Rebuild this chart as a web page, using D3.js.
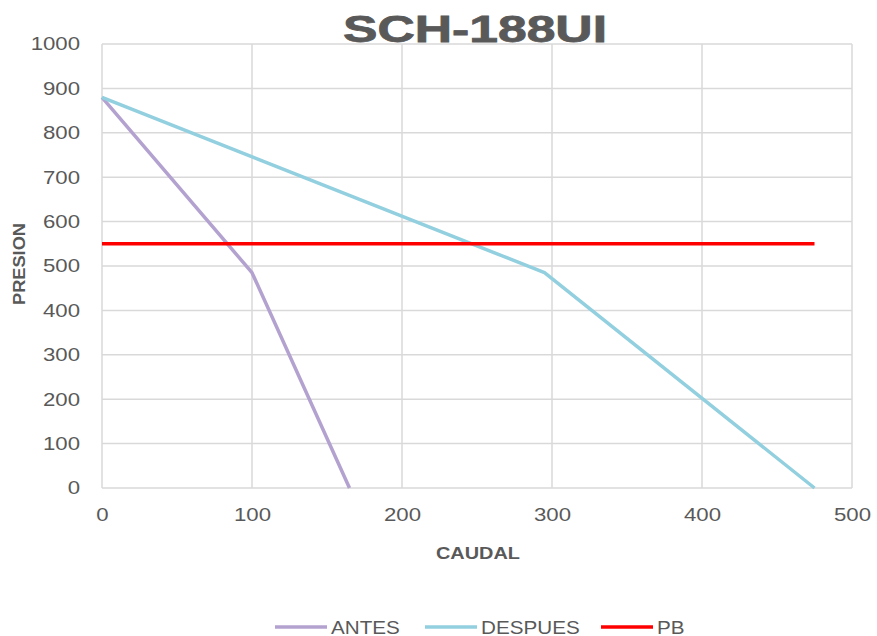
<!DOCTYPE html>
<html>
<head>
<meta charset="utf-8">
<script src="https://cdn.jsdelivr.net/npm/d3@7"></script>
<style>
  body { margin: 0; background: #fff; }
  svg { display: block; font-family: "Liberation Sans", Arial, sans-serif; }
</style>
</head>
<body>
<svg id="chart" width="877" height="636"></svg>
<script>
// Pump curve data: pressure vs flow
const antesCaudal = [0, 100, 165];
const antesPresion = [880, 485, 0];
const despuesCaudal = [0, 295, 475];
const despuesPresion = [880, 485, 0];
const pbCaudal = [0, 475];
const pbPresion = [550, 550];
const xTicks = [0, 100, 200, 300, 400, 500];
const yTicks = [0, 100, 200, 300, 400, 500, 600, 700, 800, 900, 1000];
const seriesNames = ["ANTES", "DESPUES", "PB"];
const seriesColors = ["#b3a2d0", "#92cfdf", "#ff0000"];

const svg = d3.select("#chart");
const m = { left: 102, right: 852, top: 44, bottom: 488 };
const x = d3.scaleLinear().domain([0, 500]).range([m.left, m.right]);
const y = d3.scaleLinear().domain([0, 1000]).range([m.bottom, m.top]);
const textColor = "#595959";

// Widen glyphs horizontally, keeping the anchor in place
function widen(sel, factor) {
  sel.each(function () {
    const w = this.getComputedTextLength();
    d3.select(this).attr("textLength", w * factor).attr("lengthAdjust", "spacingAndGlyphs");
  });
}

// Gridlines
svg.append("g").selectAll("line").data(yTicks).join("line")
  .attr("x1", m.left).attr("x2", m.right)
  .attr("y1", d => y(d)).attr("y2", d => y(d))
  .attr("stroke", "#d9d9d9").attr("stroke-width", 1.5);
svg.append("g").selectAll("line").data(xTicks).join("line")
  .attr("y1", m.top).attr("y2", m.bottom)
  .attr("x1", d => x(d)).attr("x2", d => x(d))
  .attr("stroke", "#d9d9d9").attr("stroke-width", 1.5);

// Axes (labels only)
const yAxis = svg.append("g").attr("transform", `translate(${m.left},0)`)
  .call(d3.axisLeft(y).tickValues(yTicks).tickSize(0).tickPadding(22).tickFormat(d3.format("d")));
yAxis.select(".domain").remove();
yAxis.selectAll("text").attr("fill", textColor).style("font-size", "18.5px").call(widen, 1.2);

const xAxis = svg.append("g").attr("transform", `translate(0,${m.bottom})`)
  .call(d3.axisBottom(x).tickValues(xTicks).tickSize(0).tickPadding(20).tickFormat(d3.format("d")));
xAxis.select(".domain").remove();
xAxis.selectAll("text").attr("fill", textColor).style("font-size", "18.5px").call(widen, 1.2);

// Series lines
const line = d3.line().x(d => x(d[0])).y(d => y(d[1]));
const series = [
  d3.zip(antesCaudal, antesPresion),
  d3.zip(despuesCaudal, despuesPresion),
  d3.zip(pbCaudal, pbPresion)
];
svg.append("g").selectAll("path").data(series).join("path")
  .attr("d", line)
  .attr("fill", "none")
  .attr("stroke", (d, i) => seriesColors[i])
  .attr("stroke-width", 3.5)
  .attr("stroke-linejoin", "round");

// Title
svg.append("text")
  .attr("x", 475).attr("y", 42)
  .attr("text-anchor", "middle")
  .attr("fill", textColor)
  .attr("stroke", textColor).attr("stroke-width", 0.8)
  .attr("font-weight", "bold")
  .attr("font-size", 37)
  .attr("textLength", 264)
  .attr("lengthAdjust", "spacingAndGlyphs")
  .text("SCH-188UI");

// Axis titles
svg.append("text")
  .attr("x", 478).attr("y", 559)
  .attr("text-anchor", "middle")
  .attr("fill", textColor)
  .attr("font-weight", "bold")
  .attr("font-size", 16)
  .attr("textLength", 84)
  .attr("lengthAdjust", "spacingAndGlyphs")
  .text("CAUDAL");
svg.append("text")
  .attr("transform", "translate(25,264) rotate(-90)")
  .attr("text-anchor", "middle")
  .attr("fill", textColor)
  .attr("font-weight", "bold")
  .attr("font-size", 16)
  .attr("textLength", 82)
  .attr("lengthAdjust", "spacingAndGlyphs")
  .text("PRESION");

// Legend
const legendX = [275, 425, 601];
const lg = svg.append("g").selectAll("g").data(seriesNames).join("g")
  .attr("transform", (d, i) => `translate(${legendX[i]},627)`);
lg.append("line").attr("x1", 0).attr("x2", 52).attr("y1", 0).attr("y2", 0)
  .attr("stroke", (d, i) => seriesColors[i]).attr("stroke-width", 3.5);
lg.append("text").attr("x", 56).attr("y", 6.5)
  .attr("fill", textColor).attr("font-size", 17.5)
  .text(d => d)
  .call(widen, 1.18);
</script>
</body>
</html>
